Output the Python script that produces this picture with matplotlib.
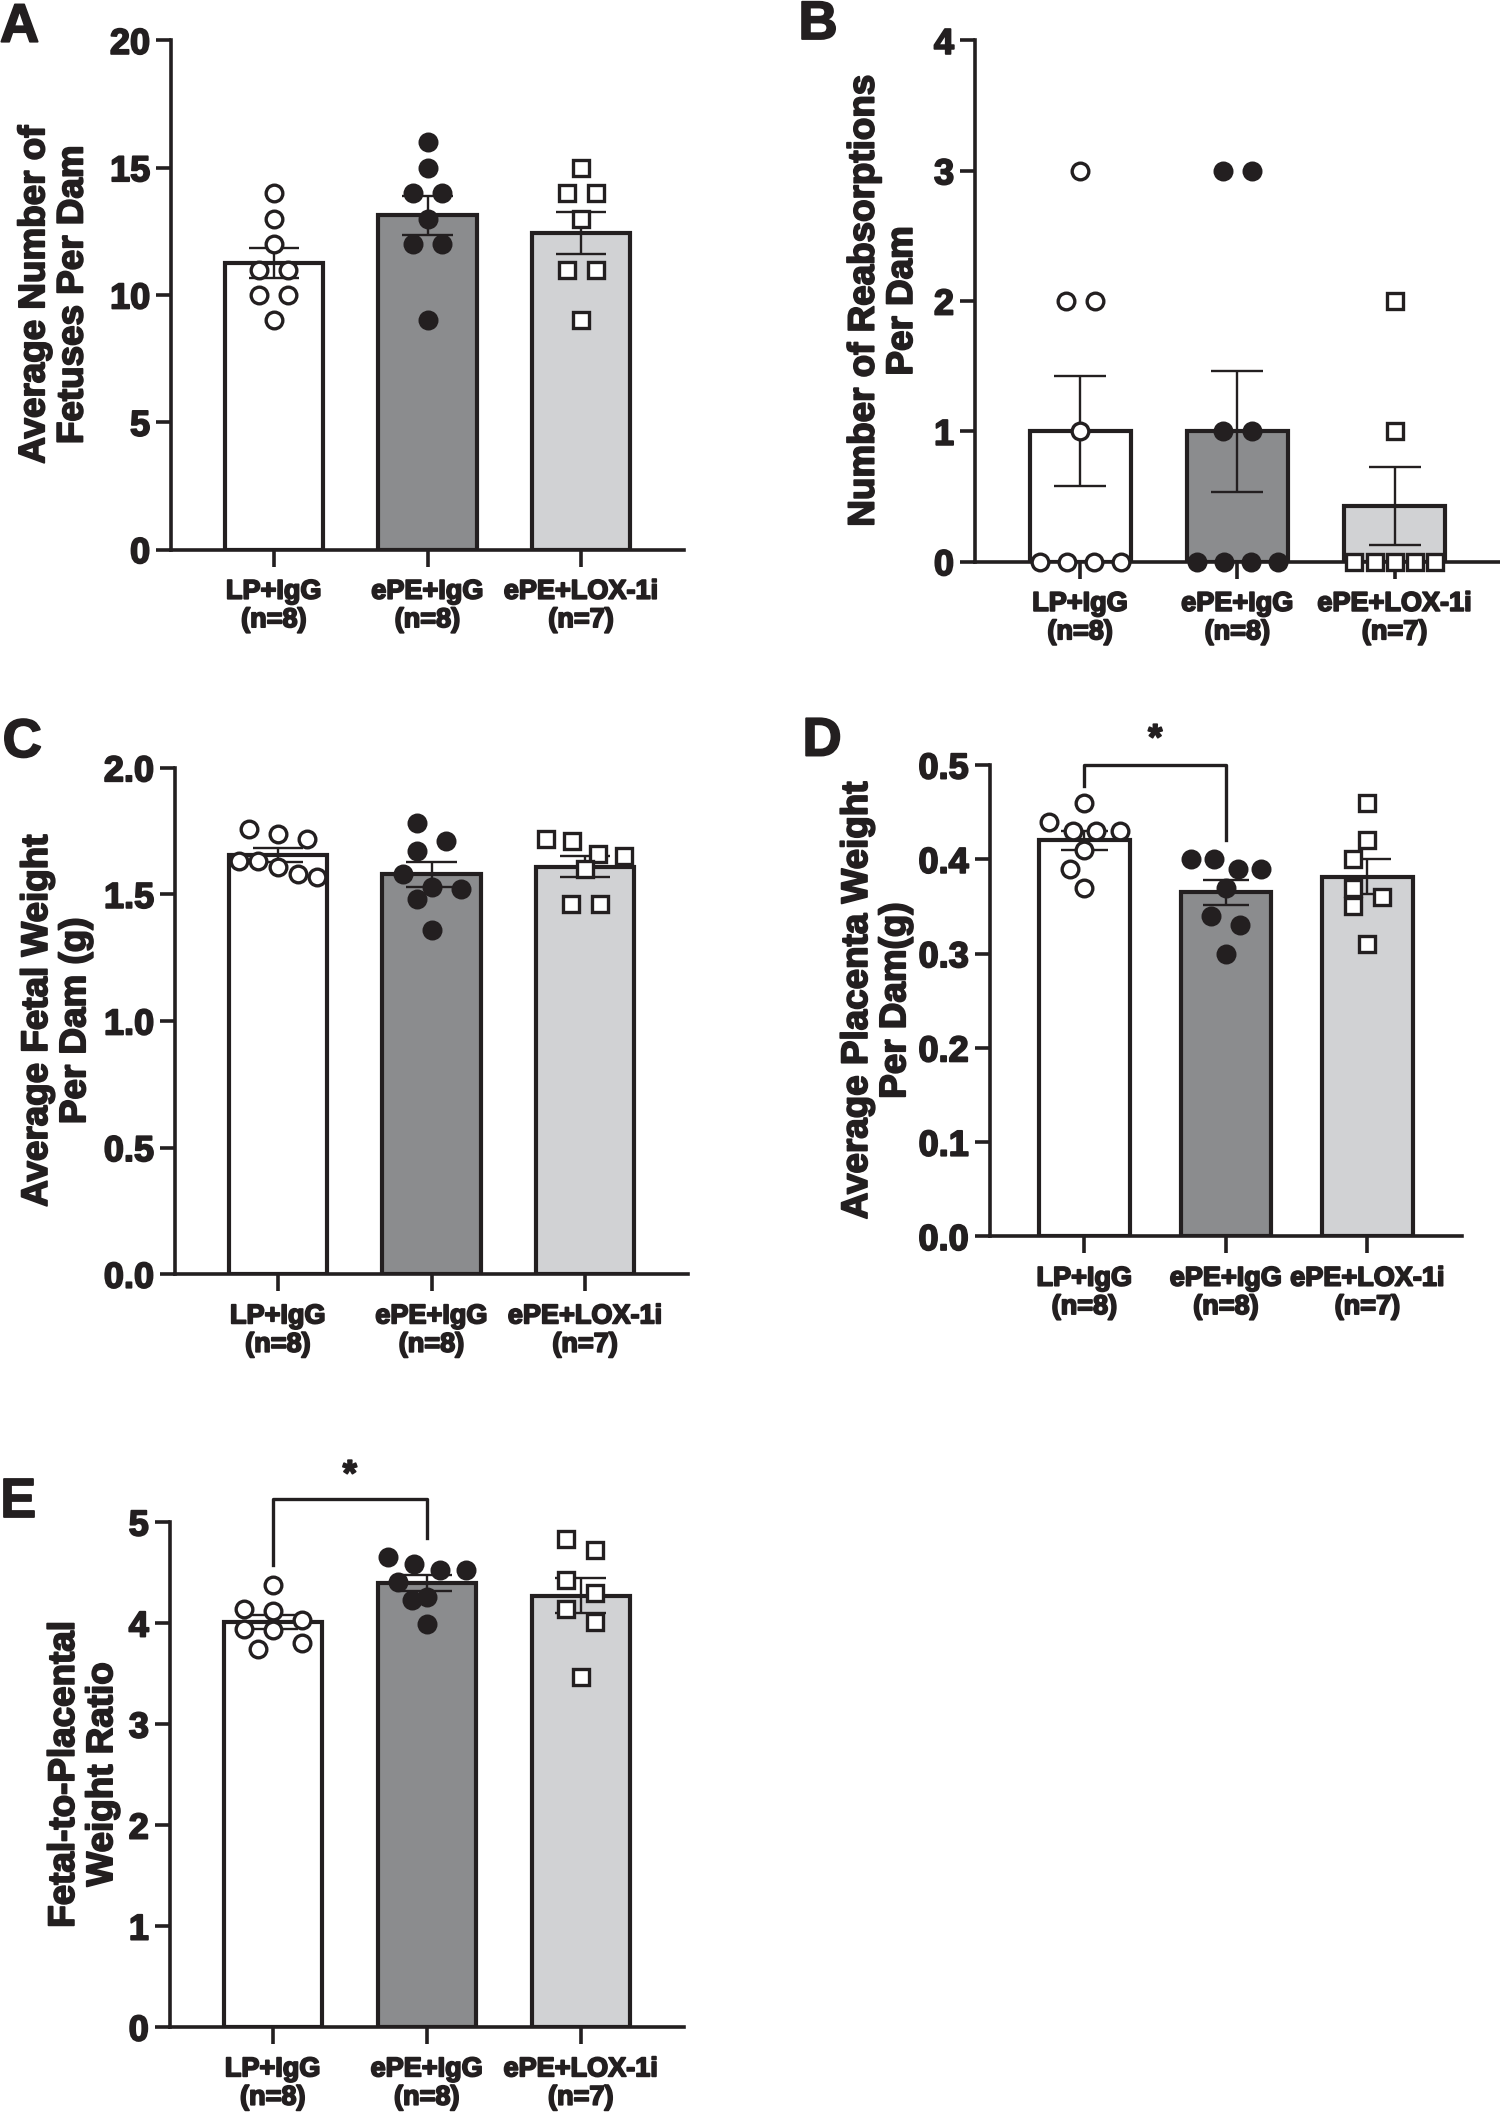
import numpy as np
import matplotlib
matplotlib.use("Agg")
import matplotlib.pyplot as plt
import matplotlib.patheffects as pe

plt.rcParams["font.family"] = ["Liberation Sans", "DejaVu Sans"]
plt.rcParams["font.weight"] = "bold"

INK = "#231f20"
BAR_COLORS = ["#ffffff", "#8b8c8e", "#d1d2d4"]
MARKERS = [("o", "white"), ("o", INK), ("s", "white")]
HEAVY = [pe.withStroke(linewidth=1.3, foreground=INK)]

group_names = ["LP+IgG", "ePE+IgG", "ePE+LOX-1i"]

# A - fetuses per dam
fetuses_lp = [14, 13, 12, 11, 11, 10, 10, 9]
fetuses_pe = [16, 15, 14, 14, 13, 12, 12, 9]
fetuses_lox = [15, 14, 14, 13, 11, 11, 9]

# B - reabsorptions per dam
reabs_lp = [3, 2, 2, 1, 0, 0, 0, 0]
reabs_pe = [3, 3, 1, 1, 0, 0, 0, 0]
reabs_lox = [2, 1, 0, 0, 0, 0, 0]

# C - fetal weight (g)
fetal_lp = [1.76, 1.74, 1.72, 1.63, 1.63, 1.61, 1.58, 1.57]
fetal_pe = [1.78, 1.71, 1.67, 1.58, 1.53, 1.52, 1.48, 1.36]
fetal_lox = [1.72, 1.71, 1.66, 1.65, 1.60, 1.46, 1.46]

# D - placenta weight (g)
plac_lp = [0.46, 0.44, 0.43, 0.43, 0.43, 0.41, 0.39, 0.37]
plac_pe = [0.40, 0.40, 0.39, 0.39, 0.37, 0.34, 0.33, 0.30]
plac_lox = [0.46, 0.42, 0.40, 0.37, 0.36, 0.35, 0.31]

# E - fetal-to-placental ratio
ratio_lp = [4.38, 4.14, 4.12, 4.03, 3.94, 3.93, 3.80, 3.74]
ratio_pe = [4.65, 4.58, 4.53, 4.53, 4.41, 4.26, 4.23, 3.99]
ratio_lox = [4.83, 4.72, 4.43, 4.30, 4.14, 4.01, 3.47]

# significance brackets: (left group, right group, top, left leg end, right leg end, star y)
sig_D = (0, 1, 0.5, 0.478, 0.42, 0.527)
sig_E = (0, 1, 5.23, 4.57, 4.84, 5.46)

fig = plt.figure(figsize=(15, 21.12), dpi=100)

# layout measured on the reduced 1114 x 1568 reference
W, H = 1114.0, 1568.0
MS, MEW = 12.0, 2.4
BAR_W = 0.64


def rect(left, right, top, bottom):
    return [left / W, 1 - bottom / H, (right - left) / W, (bottom - top) / H]


def swarm_dx(ax, vals, diam, step, width_px):
    """GraphPad-like scatter: points close in y share a row, spread symmetrically."""
    vals = np.asarray(vals, dtype=float)
    ys = ax.transData.transform(np.column_stack([np.zeros(len(vals)), vals]))[:, 1]
    ppu = ax.transData.transform((1, 0))[0] - ax.transData.transform((0, 0))[0]
    order = list(np.argsort(-vals, kind="stable"))
    rows = []
    for idx in order:
        if rows and abs(ys[rows[-1][0]] - ys[idx]) < 0.9 * diam:
            rows[-1].append(idx)
        else:
            rows.append([idx])
    offs = np.zeros(len(vals))
    placed = []
    for row in rows:
        n = len(row)
        st = step if n == 1 else min(step, (width_px - diam) / (n - 1))
        base = (np.arange(n) - (n - 1) / 2) * st
        best, best_cost = base, None
        for c in (0.0, -0.5 * step, 0.5 * step):
            xs = base + c
            if np.abs(xs).max() + diam / 2 > width_px / 2 + 2:
                continue
            cost = sum(max(0.0, diam - np.hypot(x - px, ys[i] - py))
                       for x, i in zip(xs, row) for px, py in placed)
            if best_cost is None or cost < best_cost - 0.5:
                best, best_cost = xs, cost
        for x, i in zip(best, row):
            offs[i] = x
            placed.append((x, ys[i]))
    return offs / ppu


def panel(box, groups, ymax, ystep, fmt, ylabel, label_cx, letter, letter_xy):
    ax = fig.add_axes(rect(*box))
    ax.set_xlim(-0.67, 2.67)
    ax.set_ylim(0, ymax)
    for s in ["top", "right"]:
        ax.spines[s].set_visible(False)
    for s in ["left", "bottom"]:
        ax.spines[s].set_linewidth(2.6)
        ax.spines[s].set_color(INK)

    x = np.arange(len(groups))
    means = np.array([np.mean(g) for g in groups])
    sems = np.array([np.std(g, ddof=1) / np.sqrt(len(g)) for g in groups])
    ax.bar(x, means, width=BAR_W, color=BAR_COLORS, edgecolor=INK, linewidth=3.0, zorder=1)
    ax.vlines(x, means - sems, means + sems, color=INK, lw=1.7, zorder=2)
    ax.hlines(np.r_[means - sems, means + sems], np.r_[x, x] - 0.165, np.r_[x, x] + 0.165,
              color=INK, lw=1.7, zorder=2)

    diam = (MS + MEW) * fig.dpi / 72.0
    ppu = ax.transData.transform((1, 0))[0] - ax.transData.transform((0, 0))[0]
    for i, g in enumerate(groups):
        dx = swarm_dx(ax, g, diam, 1.45 * diam, BAR_W * ppu)
        mk, fc = MARKERS[i]
        ax.plot(i + dx, g, ls="none", marker=mk, ms=MS if mk == "o" else MS - 0.8, mew=MEW,
                mfc=fc, mec=INK, zorder=3, clip_on=False)

    ax.set_xticks(x)
    ax.set_xticklabels([f"{n}\n(n={len(g)})" for n, g in zip(group_names, groups)],
                       fontsize=19.5, linespacing=1.12, color=INK)
    ax.set_yticks(np.arange(0, ymax + ystep / 2, ystep))
    ax.set_yticklabels([fmt.format(v) for v in ax.get_yticks()], fontsize=26, color=INK)
    ax.tick_params(axis="x", length=12, width=2.6, pad=9, color=INK)
    ax.tick_params(axis="y", length=11, width=2.6, pad=4, color=INK)
    for t in ax.get_xticklabels() + ax.get_yticklabels():
        t.set_path_effects(HEAVY)

    lx = (label_cx - box[0]) / (box[1] - box[0])
    ax.text(lx, 0.5, ylabel, transform=ax.transAxes, rotation=90, ha="center", va="center",
            fontsize=26.5, linespacing=1.12, color=INK, path_effects=HEAVY)
    fig.text(letter_xy[0] / W, 1 - letter_xy[1] / H, letter, fontsize=39,
             fontweight="bold", ha="left", va="top", color=INK, path_effects=HEAVY)
    return ax


def bracket(ax, sig):
    g0, g1, top, y0, y1, ystar = sig
    ax.plot([g0, g0, g1, g1], [y0, top, top, y1], color=INK, lw=2.4, clip_on=False, zorder=4)
    ax.text((g0 + g1) / 2, ystar, "*", ha="center", va="center", fontsize=26, color=INK,
            path_effects=HEAVY)


panel((127, 508, 30, 408), [fetuses_lp, fetuses_pe, fetuses_lox], 20, 5, "{:.0f}",
      "Average Number of\nFetuses Per Dam", 40, "A", (0, 2))
panel((724, 1114, 30, 417), [reabs_lp, reabs_pe, reabs_lox], 4, 1, "{:.0f}",
      "Number of Reabsorptions\nPer Dam", 656, "B", (593, 0))
panel((130, 511, 570, 946), [fetal_lp, fetal_pe, fetal_lox], 2.0, 0.5, "{:.1f}",
      "Average Fetal Weight\nPer Dam (g)", 42, "C", (2, 533))
axD = panel((735, 1086, 568, 918), [plac_lp, plac_pe, plac_lox], 0.5, 0.1, "{:.1f}",
            "Average Placenta Weight\nPer Dam(g)", 651, "D", (596, 532))
axE = panel((126, 508, 1130, 1505), [ratio_lp, ratio_pe, ratio_lox], 5, 1, "{:.0f}",
            "Fetal-to-Placental\nWeight Ratio", 62, "E", (0, 1097))
bracket(axD, sig_D)
bracket(axE, sig_E)

fig.savefig("out.png", dpi=100, facecolor="white")
